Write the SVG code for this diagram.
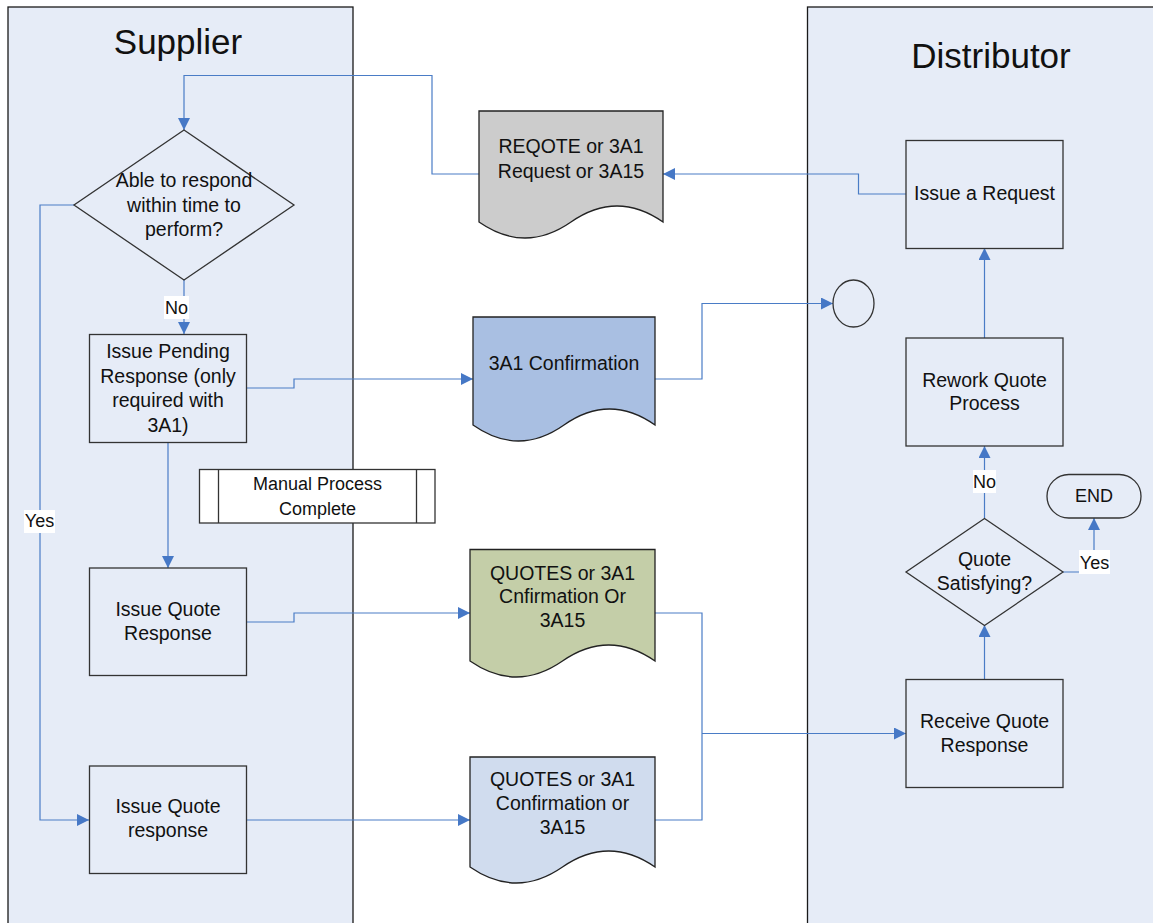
<svg xmlns="http://www.w3.org/2000/svg" width="1153" height="923" viewBox="0 0 1153 923">
  <defs>
    <marker id="arrow" viewBox="0 0 12 12" refX="12" refY="6" markerWidth="12" markerHeight="12" markerUnits="userSpaceOnUse" orient="auto">
      <path d="M0,0 L12,6 L0,12 Z" fill="#4678C6"/>
    </marker>
    <style>
      .lane { fill: #E6ECF7; stroke: #1a1a1a; stroke-width: 1.3; }
      .box { fill: #E6ECF7; stroke: #333; stroke-width: 1.3; }
      .doc { stroke: #222; stroke-width: 1.3; }
      .conn { fill: none; stroke: #4A7CC6; stroke-width: 1.2; }
      .arr { marker-end: url(#arrow); }
      .lbl { fill: #fff; stroke: none; }
      text { font-family: "Liberation Sans", Arial, sans-serif; fill: #111; text-anchor: middle; }
      .t { font-size: 19.5px; }
      .s { font-size: 18px; }
      .title { font-size: 35px; }
    </style>
  </defs>

  <rect width="1153" height="923" fill="#fff"/>

  <!-- swim lanes -->
  <g id="lane-supplier">
    <rect class="lane" x="8" y="7" width="345" height="930"/>
    <text class="title" x="178" y="54">Supplier</text>
  </g>
  <g id="lane-distributor">
    <rect class="lane" x="807.5" y="7" width="360" height="930"/>
    <text class="title" x="991" y="68">Distributor</text>
  </g>

  <!-- connectors -->
  <g id="connectors">
    <path class="conn arr" d="M479,174 H432 V75.5 H184 V130"/>
    <path class="conn arr" d="M906,194 H858.5 V174 H663"/>
    <path class="conn arr" d="M184,280 V334"/>
    <path class="conn arr" d="M74,205 H40 V820 H89"/>
    <path class="conn arr" d="M247,388 H294 V379 H473"/>
    <path class="conn arr" d="M655,379 H702 V303.5 H833"/>
    <path class="conn arr" d="M168,442 V568"/>
    <path class="conn arr" d="M247,622 H294 V613 H470"/>
    <path class="conn arr" d="M247,820 H470"/>
    <path class="conn" d="M655,613 H702 V820 H655"/>
    <path class="conn arr" d="M702,733.5 H906"/>
    <path class="conn arr" d="M984.5,679 V625"/>
    <path class="conn arr" d="M984.5,518 V446"/>
    <path class="conn arr" d="M1063,572 H1094 V518"/>
    <path class="conn arr" d="M984.5,338 V248"/>
  </g>

  <!-- supplier nodes -->
  <g id="decision-able">
    <polygon class="box" points="184,130 294,205 184,280 74,205"/>
    <text class="t" x="184" y="187">Able to respond</text>
    <text class="t" x="184" y="211.5">within time to</text>
    <text class="t" x="184" y="236">perform?</text>
  </g>
  <g id="label-no-1">
    <rect class="lbl" x="164" y="296" width="25" height="23"/>
    <text class="s" x="176.5" y="313.5">No</text>
  </g>
  <g id="label-yes-1">
    <rect class="lbl" x="24" y="510" width="31" height="23"/>
    <text class="s" x="39.5" y="527">Yes</text>
  </g>
  <g id="issue-pending">
    <rect class="box" x="89.5" y="334.5" width="157" height="108"/>
    <text class="t" x="168" y="358">Issue Pending</text>
    <text class="t" x="168" y="382.5">Response (only</text>
    <text class="t" x="168" y="407">required with</text>
    <text class="t" x="168" y="431.5">3A1)</text>
  </g>
  <g id="manual-process">
    <rect x="199.5" y="469.5" width="235.5" height="53.5" fill="#fff" stroke="#333" stroke-width="1.3"/>
    <line x1="218.5" y1="469.5" x2="218.5" y2="523" stroke="#333" stroke-width="1.3"/>
    <line x1="416.5" y1="469.5" x2="416.5" y2="523" stroke="#333" stroke-width="1.3"/>
    <text class="s" x="317.5" y="490">Manual Process</text>
    <text class="s" x="317.5" y="515">Complete</text>
  </g>
  <g id="issue-quote-response">
    <rect class="box" x="89.5" y="568" width="157" height="107.5"/>
    <text class="t" x="168" y="615.5">Issue Quote</text>
    <text class="t" x="168" y="640">Response</text>
  </g>
  <g id="issue-quote-response-2">
    <rect class="box" x="89.5" y="766" width="157" height="107.5"/>
    <text class="t" x="168" y="813">Issue Quote</text>
    <text class="t" x="168" y="837">response</text>
  </g>

  <!-- documents exchanged -->
  <g id="doc-request">
    <path class="doc" fill="#CCCCCC" d="M479,111 H663 V222 Q617,190 571,222 T479,222 Z"/>
    <text class="t" x="571" y="152.5">REQOTE or 3A1</text>
    <text class="t" x="571" y="177.5">Request or 3A15</text>
  </g>
  <g id="doc-confirmation">
    <path class="doc" fill="#A9BFE2" d="M473,317 H655 V425 Q609.5,393 564,425 T473,425 Z"/>
    <text class="t" x="564" y="370">3A1 Confirmation</text>
  </g>
  <g id="doc-quotes-1">
    <path class="doc" fill="#C4CEA8" d="M470,549.5 H655 V661 Q608.75,629 562.5,661 T470,661 Z"/>
    <text class="t" x="562.5" y="579.5">QUOTES or 3A1</text>
    <text class="t" x="562.5" y="603">Cnfirmation Or</text>
    <text class="t" x="562.5" y="627">3A15</text>
  </g>
  <g id="doc-quotes-2">
    <path class="doc" fill="#D0DCEE" d="M470,757 H655 V867 Q608.75,835 562.5,867 T470,867 Z"/>
    <text class="t" x="562.5" y="786">QUOTES or 3A1</text>
    <text class="t" x="562.5" y="810">Confirmation or</text>
    <text class="t" x="562.5" y="834">3A15</text>
  </g>

  <!-- distributor nodes -->
  <g id="issue-request">
    <rect class="box" x="906" y="140.5" width="157" height="108"/>
    <text class="t" x="984.5" y="200">Issue a Request</text>
  </g>
  <g id="connector-circle">
    <ellipse class="box" cx="853.5" cy="303.5" rx="20.5" ry="23.5"/>
  </g>
  <g id="rework-quote">
    <rect class="box" x="906" y="338" width="157" height="108"/>
    <text class="t" x="984.5" y="386.5">Rework Quote</text>
    <text class="t" x="984.5" y="410">Process</text>
  </g>
  <g id="label-no-2">
    <rect class="lbl" x="973" y="470" width="23" height="23"/>
    <text class="s" x="984.5" y="488">No</text>
  </g>
  <g id="end">
    <rect class="box" x="1047" y="474.5" width="94" height="43.5" rx="21.75"/>
    <text class="s" x="1094" y="502">END</text>
  </g>
  <g id="decision-quote">
    <polygon class="box" points="984.5,518.5 1063,572 984.5,625.5 906,572"/>
    <text class="t" x="984.5" y="566">Quote</text>
    <text class="t" x="984.5" y="590">Satisfying?</text>
  </g>
  <g id="label-yes-2">
    <rect class="lbl" x="1079" y="550" width="31" height="24"/>
    <text class="s" x="1094.5" y="568.5">Yes</text>
  </g>
  <g id="receive-quote">
    <rect class="box" x="906" y="679.5" width="157" height="108"/>
    <text class="t" x="984.5" y="727.5">Receive Quote</text>
    <text class="t" x="984.5" y="751.5">Response</text>
  </g>
</svg>
